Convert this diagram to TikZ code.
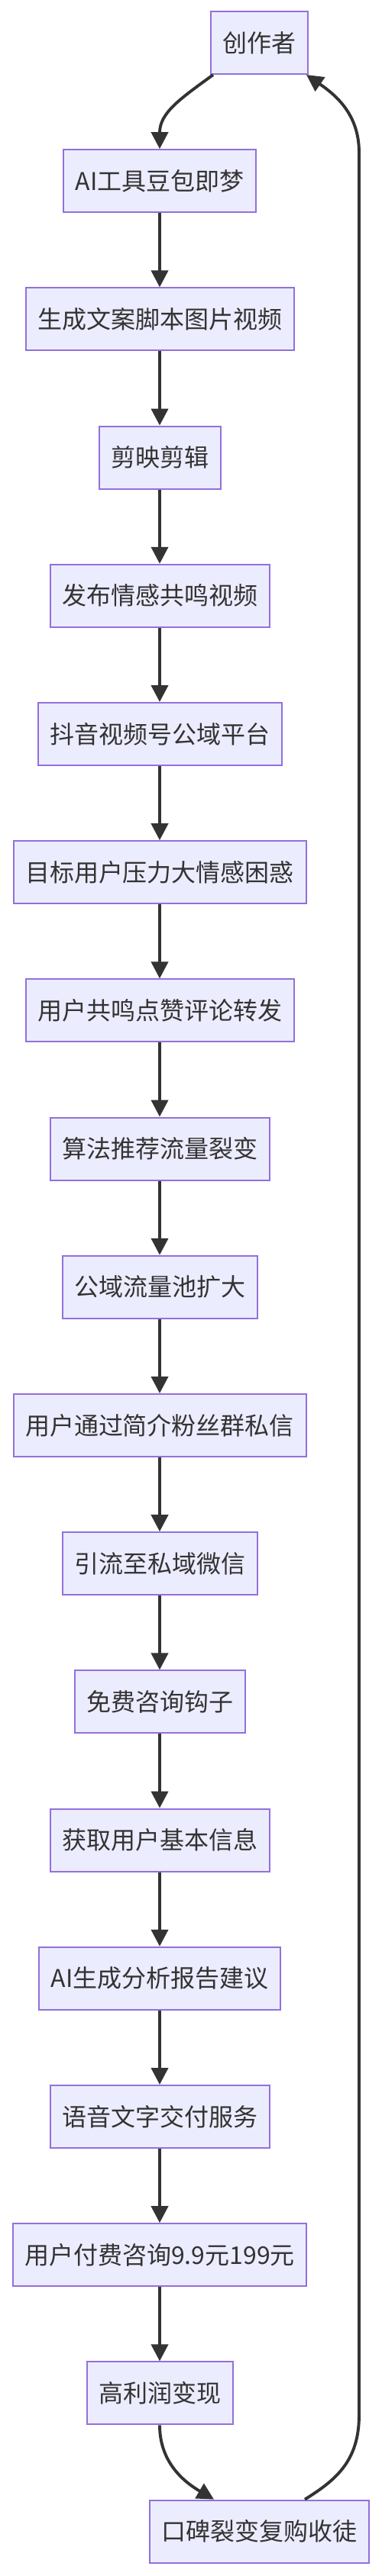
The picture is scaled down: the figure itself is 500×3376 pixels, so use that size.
\documentclass[tikz,border=0pt]{standalone}
\usepackage{fontspec}
\setmainfont{Noto Sans CJK SC}
\usetikzlibrary{arrows.meta}
\definecolor{nodefill}{HTML}{ECECFF}
\definecolor{nodeborder}{HTML}{9370DB}
\definecolor{edgecol}{HTML}{333333}
\definecolor{textcol}{HTML}{333333}
\begin{document}
\begin{tikzpicture}[x=1pt,y=-1pt,
  box/.style={draw=nodeborder, fill=nodefill, line width=2pt,
    font=\fontsize{32pt}{38pt}\selectfont, text=textcol,
    inner xsep=15.5pt, inner ysep=0pt, minimum height=82pt},
  link/.style={draw=edgecol, line width=3.9pt,
    -{Triangle[length=22pt,width=22pt]}}]
\useasboundingbox (0,0) rectangle (500,3376);
\node[box] (n0)  at (339.5,56) {创作者};
\node[box] (n1)  at (209,237.2) {AI工具豆包即梦};
\node[box] (n2)  at (209,418.4) {生成文案脚本图片视频};
\node[box] (n3)  at (209,599.6) {剪映剪辑};
\node[box] (n4)  at (209,780.8) {发布情感共鸣视频};
\node[box] (n5)  at (209,962.0) {抖音视频号公域平台};
\node[box] (n6)  at (209,1143.2) {目标用户压力大情感困惑};
\node[box] (n7)  at (209,1324.4) {用户共鸣点赞评论转发};
\node[box] (n8)  at (209,1505.6) {算法推荐流量裂变};
\node[box] (n9)  at (209,1686.8) {公域流量池扩大};
\node[box] (n10) at (209,1868.0) {用户通过简介粉丝群私信};
\node[box] (n11) at (209,2049.2) {引流至私域微信};
\node[box] (n12) at (209,2230.4) {免费咨询钩子};
\node[box] (n13) at (209,2411.6) {获取用户基本信息};
\node[box] (n14) at (209,2592.8) {AI生成分析报告建议};
\node[box] (n15) at (209,2774.0) {语音文字交付服务};
\node[box] (n16) at (209,2955.2) {用户付费咨询9.9元199元};
\node[box] (n17) at (209,3136.4) {高利润变现};
\node[box] (n18) at (339.5,3317.6) {口碑裂变复购收徒};

\draw[link] ([xshift=4pt]n0.south west) .. controls (235,130) and (209,148) .. (n1.north);
\draw[link] (n1) -- (n2);
\draw[link] (n2) -- (n3);
\draw[link] (n3) -- (n4);
\draw[link] (n4) -- (n5);
\draw[link] (n5) -- (n6);
\draw[link] (n6) -- (n7);
\draw[link] (n7) -- (n8);
\draw[link] (n8) -- (n9);
\draw[link] (n9) -- (n10);
\draw[link] (n10) -- (n11);
\draw[link] (n11) -- (n12);
\draw[link] (n12) -- (n13);
\draw[link] (n13) -- (n14);
\draw[link] (n14) -- (n15);
\draw[link] (n15) -- (n16);
\draw[link] (n16) -- (n17);
\draw[link] (n17.south) .. controls (209,3230) and (245,3255) .. ([xshift=85pt]n18.north west);
\draw[link] ([xshift=-85pt]n18.north east) .. controls (440,3250) and (470,3225) .. (470,3165)
  -- (470,200) .. controls (470,150) and (440,125) .. ([xshift=-3pt]n0.south east);
\end{tikzpicture}
\end{document}
